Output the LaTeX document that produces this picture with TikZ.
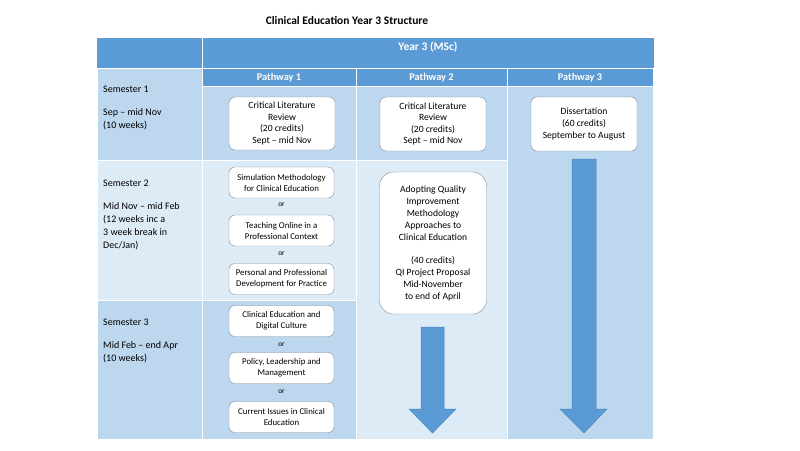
\documentclass[tikz,border=0pt]{standalone}
\usepackage{fontspec}
\setmainfont{Carlito}
\usetikzlibrary{positioning}
\definecolor{hdblue}{HTML}{5B9BD5}
\definecolor{ltblue}{HTML}{BDD7EE}
\definecolor{vltblue}{HTML}{DDEBF7}
\definecolor{boxline}{HTML}{7F8C99}
\definecolor{arrline}{HTML}{4A85BF}
\begin{document}
\begin{tikzpicture}[x=1pt,y=-1pt,
  cell/.style={draw=white,line width=1pt},
  modbox/.style={draw=boxline,fill=white,rounded corners=6pt,align=center,inner sep=1pt,font=\fontsize{9.6}{11.6}\selectfont},
  smallbox/.style={modbox,minimum width=105pt,minimum height=31pt,font=\fontsize{8.8}{11}\selectfont},
  orlabel/.style={font=\fontsize{7.4}{8}\selectfont,inner sep=0pt},
  semtext/.style={anchor=north west,align=left,inner sep=0pt,font=\fontsize{10}{13}\selectfont},
  pathhead/.style={text=white,font=\bfseries\fontsize{10.3}{12}\selectfont},
  bigarrow/.style={fill=hdblue,draw=arrline,line width=0.5pt}]
\useasboundingbox[fill=white] (0,0) rectangle (800,450);
% title
\node[font=\bfseries\fontsize{11.5}{13}\selectfont] (title) at (347,20) {Clinical Education Year 3 Structure};
% table cells
\fill[cell,hdblue] (97,38) rectangle (202,68);
\fill[cell,hdblue] (202,38) rectangle (653,68);
\filldraw[cell,fill=ltblue] (97,68) rectangle (202,160);
\filldraw[cell,fill=vltblue] (97,160) rectangle (202,300);
\filldraw[cell,fill=ltblue] (97,300) rectangle (202,439);
\filldraw[cell,fill=hdblue] (202,68) rectangle (356,86);
\filldraw[cell,fill=hdblue] (356,68) rectangle (507,86);
\filldraw[cell,fill=hdblue] (507,68) rectangle (653,86);
\filldraw[cell,fill=ltblue] (202,86) rectangle (356,160);
\filldraw[cell,fill=vltblue] (202,160) rectangle (356,300);
\filldraw[cell,fill=ltblue] (202,300) rectangle (356,439);
\filldraw[cell,fill=ltblue] (356,86) rectangle (507,160);
\filldraw[cell,fill=vltblue] (356,160) rectangle (507,439);
\filldraw[cell,fill=ltblue] (507,86) rectangle (653,439);
\draw[white,line width=1pt] (202,38) -- (202,68);
% headers
\node[pathhead,font=\bfseries\fontsize{11.5}{13}\selectfont] (year) at (428,47) {Year 3 (MSc)};
\node[pathhead] (path1) at (279,78) {Pathway 1};
\node[pathhead] (path2) at (431.5,78) {Pathway 2};
\node[pathhead] (path3) at (580,78) {Pathway 3};
% semesters
\node[semtext] (sem1) at (103,86) {Semester 1\\[10pt]Sep -- mid Nov\\(10 weeks)};
\node[semtext] (sem2) at (103,179.5) {Semester 2\\[10pt]Mid Nov -- mid Feb\\(12 weeks inc a\\3 week break in\\Dec/Jan)};
\node[semtext] (sem3) at (103,318.5) {Semester 3\\[10pt]Mid Feb -- end Apr\\(10 weeks)};
% semester 1 modules
\node[modbox,minimum width=106pt,minimum height=53pt] (crit1) at (282,123.5) {Critical Literature\\Review\\(20 credits)\\Sept -- mid Nov};
\node[modbox,minimum width=106pt,minimum height=54pt] (crit2) at (433,124) {Critical Literature\\Review\\(20 credits)\\Sept -- mid Nov};
\node[modbox,minimum width=106pt,minimum height=54pt] (diss) at (584,124) {Dissertation\\(60 credits)\\September to August};
% semester 2 options
\node[smallbox] (sim) at (281.5,182.5) {Simulation Methodology\\for Clinical Education};
\node[orlabel] (or1) at (281.5,205) {or};
\node[smallbox] (teach) at (281.5,230.5) {Teaching Online in a\\Professional Context};
\node[orlabel] (or2) at (281.5,254) {or};
\node[smallbox] (pers) at (281.5,279) {Personal and Professional\\Development for Practice};
% semester 3 options
\node[smallbox] (digi) at (281.5,321) {Clinical Education and\\Digital Culture};
\node[orlabel] (or3) at (281.5,345) {or};
\node[smallbox] (policy) at (281.5,368) {Policy, Leadership and\\Management};
\node[orlabel] (or4) at (281.5,392) {or};
\node[smallbox] (issues) at (281.5,417) {Current Issues in Clinical\\Education};
% pathway 2 project
\node[modbox,rounded corners=14pt,minimum width=107pt,minimum height=142pt,font=\fontsize{9.6}{12}\selectfont] (qi) at (433,243) {Adopting Quality\\Improvement\\Methodology\\Approaches to\\Clinical Education\\[11pt](40 credits)\\QI Project Proposal\\Mid-November\\to end of April};
% arrows
\filldraw[bigarrow] (421,327) -- (444,327) -- (444,409) -- (456,409) -- (432.5,433) -- (409,409) -- (421,409) -- cycle;
\filldraw[bigarrow] (572,159) -- (596,159) -- (596,409) -- (607,409) -- (584,433) -- (560,409) -- (572,409) -- cycle;
\end{tikzpicture}
\end{document}
